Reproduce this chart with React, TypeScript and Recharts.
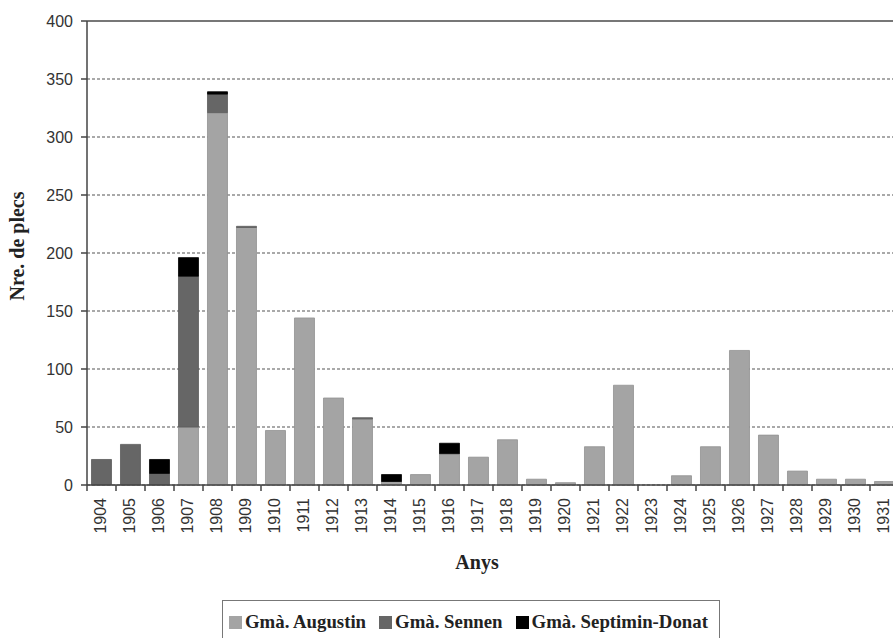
import React from 'react';
import {
  BarChart,
  Bar,
  XAxis,
  YAxis,
  CartesianGrid,
  ReferenceLine,
  Label,
} from 'recharts';

const years = [
  '1904', '1905', '1906', '1907', '1908', '1909', '1910', '1911', '1912', '1913',
  '1914', '1915', '1916', '1917', '1918', '1919', '1920', '1921', '1922', '1923',
  '1924', '1925', '1926', '1927', '1928', '1929', '1930', '1931',
];

const augustin = [
  0, 0, 0, 50, 321, 222, 47, 144, 75, 57,
  3, 9, 27, 24, 39, 5, 2, 33, 86, 0,
  8, 33, 116, 43, 12, 5, 5, 3,
];

const sennen = [
  22, 35, 10, 130, 16, 1, 0, 0, 0, 1,
  0, 0, 0, 0, 0, 0, 0, 0, 0, 0,
  0, 0, 0, 0, 0, 0, 0, 0,
];

const septimin = [
  0, 0, 12, 16, 2, 0, 0, 0, 0, 0,
  6, 0, 9, 0, 0, 0, 0, 0, 0, 0,
  0, 0, 0, 0, 0, 0, 0, 0,
];

const yTicks = [0, 50, 100, 150, 200, 250, 300, 350, 400];

const series = [
  { key: 'augustin', name: 'Gmà. Augustin', fill: '#a4a4a4', stroke: '#929292' },
  { key: 'sennen', name: 'Gmà. Sennen', fill: '#666666', stroke: '#5a5a5a' },
  { key: 'septimin', name: 'Gmà. Septimin-Donat', fill: '#000000', stroke: '#000000' },
];

const data = years.map((year, i) => ({
  year,
  augustin: augustin[i],
  sennen: sennen[i],
  septimin: septimin[i],
}));

const HALF_BAND = 14.5;
const sans = '"Liberation Sans", Arial, sans-serif';
const serif = '"Liberation Serif", "Times New Roman", serif';

function YearTick(props: any) {
  const { x, y, payload, index } = props;
  const ty = y + 13;
  return (
    <g>
      <line x1={x - HALF_BAND} y1={y} x2={x - HALF_BAND} y2={y + 6} stroke="#444" strokeWidth={1.5} />
      {index === years.length - 1 && (
        <line x1={x + HALF_BAND} y1={y} x2={x + HALF_BAND} y2={y + 6} stroke="#444" strokeWidth={1.5} />
      )}
      <text
        x={x - 1}
        y={ty}
        transform={`rotate(-90 ${x - 1} ${ty})`}
        textAnchor="end"
        dominantBaseline="central"
        fontFamily={sans}
        fontSize={16}
        fill="#333"
      >
        {payload.value}
      </text>
    </g>
  );
}

function YTitle(props: any) {
  const { viewBox } = props;
  const cy = viewBox.y + viewBox.height / 2 - 7;
  return (
    <text
      x={17}
      y={cy}
      transform={`rotate(-90 17 ${cy})`}
      textAnchor="middle"
      dominantBaseline="central"
      fontFamily={serif}
      fontWeight="bold"
      fontSize={20}
      fill="#222"
    >
      Nre. de plecs
    </text>
  );
}

function XTitle() {
  return (
    <text
      x={477}
      y={569}
      textAnchor="middle"
      fontFamily={serif}
      fontWeight="bold"
      fontSize={20}
      fill="#222"
    >
      Anys
    </text>
  );
}

function App() {
  return (
    <div
      style={{
        position: 'absolute',
        left: 0,
        top: 0,
        width: 893,
        height: 638,
        overflow: 'hidden',
        background: '#fff',
      }}
    >
      <BarChart
        width={905}
        height={638}
        data={data}
        margin={{ top: 21, right: 6, left: 27, bottom: 63 }}
        barCategoryGap="15.5%"
      >
        <CartesianGrid
          vertical={false}
          stroke="#555"
          strokeDasharray="3 2"
          strokeWidth={1.2}
        />
        <ReferenceLine y={400} stroke="#777" strokeWidth={2} />
        <XAxis
          dataKey="year"
          height={90}
          interval={0}
          tickSize={0}
          tickMargin={0}
          tickLine={false}
          tick={<YearTick />}
          axisLine={{ stroke: '#444', strokeWidth: 1.5 }}
          label={<Label content={<XTitle />} />}
        />
        <YAxis
          width={60}
          domain={[0, 400]}
          ticks={yTicks}
          interval={0}
          tickSize={6}
          tickMargin={8}
          tick={{ fontFamily: sans, fontSize: 16, fill: '#333' }}
          tickLine={{ stroke: '#444', strokeWidth: 1.5 }}
          axisLine={{ stroke: '#444', strokeWidth: 1.5 }}
          label={<Label content={<YTitle />} />}
        />
        {series.map((s) => (
          <Bar
            key={s.key}
            dataKey={s.key}
            name={s.name}
            stackId="plecs"
            fill={s.fill}
            stroke={s.stroke}
            strokeWidth={0.8}
            isAnimationActive={false}
          />
        ))}
      </BarChart>
      <div
        style={{
          position: 'absolute',
          left: 222,
          top: 600,
          width: 498,
          height: 44,
          border: '1.5px solid #777',
          boxSizing: 'border-box',
          display: 'flex',
          alignItems: 'center',
          paddingLeft: 6,
          fontFamily: serif,
          fontWeight: 'bold',
          fontSize: 18.8,
          color: '#222',
          whiteSpace: 'nowrap',
        }}
      >
        {series.map((s) => (
          <div key={s.key} style={{ display: 'flex', alignItems: 'center', marginRight: 13 }}>
            <span
              style={{
                display: 'inline-block',
                width: 13,
                height: 13,
                background: s.fill,
                marginRight: 3,
              }}
            />
            <span>{s.name}</span>
          </div>
        ))}
      </div>
    </div>
  );
}

export default App;
